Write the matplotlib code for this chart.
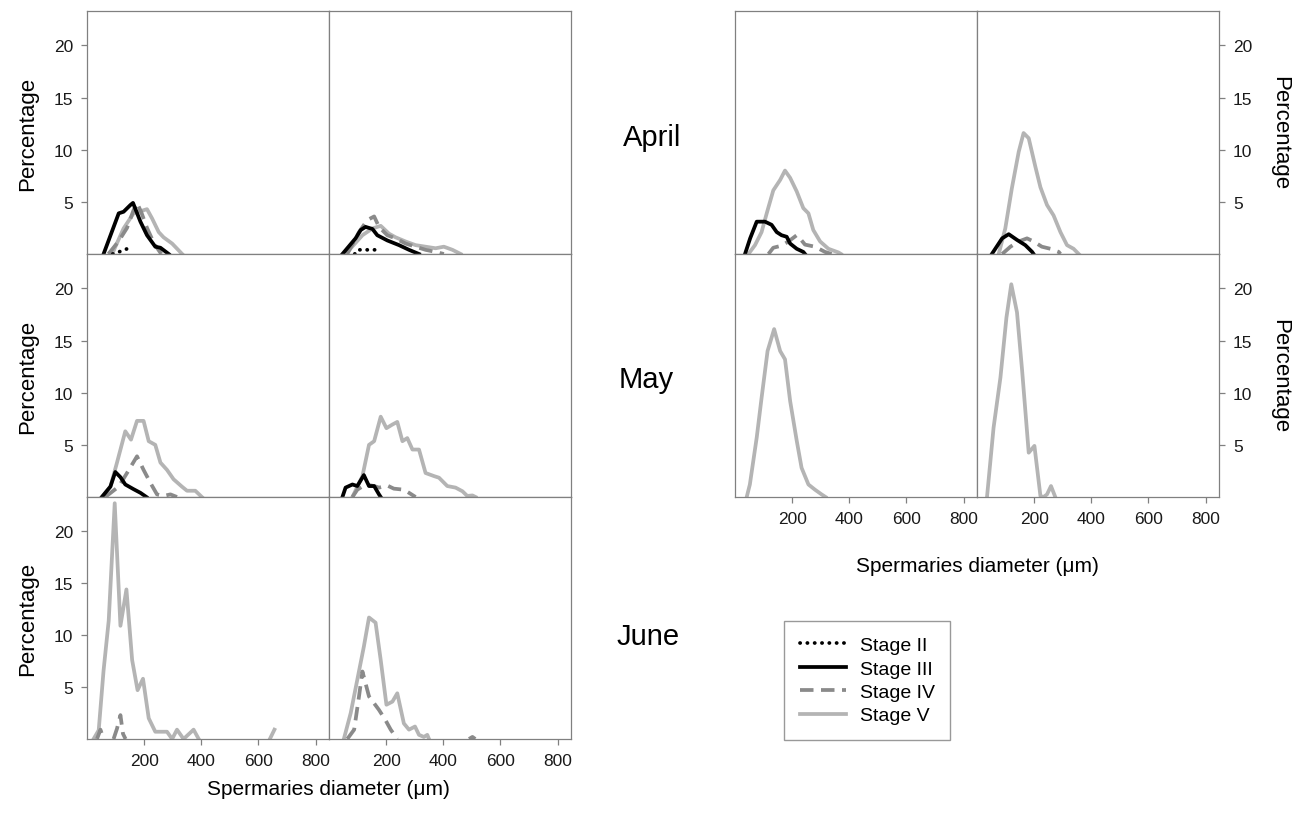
import numpy as np
import matplotlib
matplotlib.use("Agg")
import matplotlib.pyplot as plt
from matplotlib.lines import Line2D

plt.rcParams["font.family"] = ["Liberation Sans", "DejaVu Sans"]

nan = np.nan

# ---------------------------------------------------------------
# data: percentage by spermaries diameter (um), per stage
# a = left block, b = right block; 1/2 = column inside block
# ---------------------------------------------------------------
apr_a1 = {
    "II":  ([90, 110, 125, 140, 150], [0, 0.2, 0.3, 0.5, 0]),
    "III": ([58, 111, 128, 152, 161, 187, 210, 239, 257, 286],
            [0, 3.9, 4.05, 4.7, 4.9, 3.1, 1.8, 0.7, 0.6, 0]),
    "IV":  ([75, 110, 140, 163, 175, 190, 210, 235, 260],
            [0, 1.2, 2.5, 4.2, 4.9, 4.0, 2.5, 1.0, 0]),
    "V":   ([88, 128, 163, 181, 210, 228, 251, 268, 298, 333],
            [0, 2.45, 3.9, 4.05, 4.3, 3.4, 2.1, 1.6, 1.0, 0]),
}
apr_a2 = {
    "II":  ([90, 100, 135, 165, 175], [0, 0.4, 0.4, 0.4, 0]),
    "III": ([47, 93, 111, 128, 152, 169, 204, 245, 280, 315],
            [0, 1.5, 2.3, 2.6, 2.4, 1.8, 1.3, 0.85, 0.4, 0]),
    "IV":  ([64, 105, 134, 158, 175, 204, 233, 268, 303, 338, 373, 402],
            [0, 2.1, 3.25, 3.6, 2.6, 1.8, 1.5, 1.0, 0.7, 0.4, 0.2, 0]),
    "V":   ([58, 117, 152, 181, 210, 233, 268, 303, 338, 373, 402, 432, 461],
            [0, 1.8, 2.45, 2.7, 1.95, 1.6, 1.2, 0.85, 0.7, 0.55, 0.7, 0.4, 0]),
}
apr_b1 = {
    "III": ([35, 53, 76, 105, 128, 146, 163, 181, 193, 216, 239, 245],
            [0, 1.5, 3.1, 3.1, 2.8, 2.1, 1.8, 1.65, 1.0, 0.5, 0.2, 0]),
    "IV":  ([117, 134, 163, 187, 216, 227, 245, 280, 315, 338],
            [0, 0.6, 0.8, 1.2, 1.8, 1.5, 0.9, 0.7, 0.2, 0]),
    "V":   ([47, 70, 93, 111, 134, 158, 175, 193, 216, 239, 257, 274, 298, 327, 362, 371],
            [0, 0.85, 2.1, 3.9, 6.1, 7.1, 8.0, 7.3, 6.0, 4.4, 3.9, 2.3, 1.2, 0.5, 0.15, 0]),
}
apr_b2 = {
    "III": ([52, 88, 111, 140, 169, 193, 198], [0, 1.5, 1.9, 1.35, 0.85, 0.2, 0]),
    "IV":  ([88, 117, 146, 175, 198, 227, 257, 286, 292],
            [0, 0.7, 1.2, 1.5, 1.2, 0.7, 0.5, 0.2, 0]),
    "V":   ([76, 99, 122, 146, 163, 181, 204, 222, 245, 268, 292, 315, 338, 356],
            [0, 2.45, 6.3, 9.8, 11.6, 11.1, 8.4, 6.4, 4.7, 3.7, 2.1, 0.85, 0.5, 0]),
}
may_a1 = {
    "III": ([52, 82, 99, 117, 134, 163, 187, 208], [0, 1.0, 2.4, 1.9, 1.2, 0.75, 0.4, 0]),
    "IV":  ([64, 111, 140, 175, 198, 222, 245, 268, 292, 315],
            [0, 1.0, 2.3, 3.9, 2.6, 1.35, 0.25, 0.1, 0.25, 0]),
    "V":   ([52, 82, 105, 134, 154, 175, 198, 216, 239, 257, 280, 303, 332, 350, 379, 402],
            [0, 1.0, 3.3, 6.3, 5.5, 7.3, 7.3, 5.35, 5.0, 3.3, 2.6, 1.7, 1.0, 0.6, 0.6, 0]),
}
may_a2 = {
    "III": ([47, 58, 82, 99, 122, 140, 158, 175, 181],
            [0, 0.9, 1.2, 1.05, 2.1, 1.05, 1.05, 0.25, 0]),
    "IV":  ([82, 99, 128, 158, 175, 204, 227, 262, 280, 303],
            [0, 0.7, 1.2, 1.05, 0.9, 1.1, 0.8, 0.7, 0.4, 0]),
    "V":   ([82, 117, 140, 158, 181, 201, 222, 239, 257, 274, 292, 315, 338, 368, 385,
             414, 443, 467, 484, 502, 513],
            [0, 2.0, 5.0, 5.35, 7.7, 6.6, 6.95, 7.2, 5.35, 5.65, 4.55, 4.55, 2.3, 2.0, 1.85,
             1.05, 0.9, 0.55, 0.1, 0.15, 0]),
}
may_b1 = {
    "V": ([41, 52, 76, 93, 114, 137, 158, 175, 193, 216, 233, 257, 280, 303, 317],
          [0, 1.2, 5.7, 9.5, 14.0, 16.1, 14.0, 13.2, 9.2, 5.4, 2.8, 1.2, 0.7, 0.25, 0]),
}
may_b2 = {
    "V": ([35, 58, 82, 103, 120, 140, 158, 181, 201, 222, 233, 245, 259, 274],
          [0, 6.65, 11.45, 17.2, 20.4, 17.7, 12.1, 4.25, 4.9, 0.1, 0, 0.25, 1.05, 0]),
}
jun_a1 = {
    "IV": ([35, 47, 58, nan, 93, 105, 117, 126, 135],
           [0, 0.9, 0, nan, 0, 1.0, 2.3, 0.5, 0]),
    "V":  ([23, 41, 58, 76, 97, 117, 138, 158, 177, 196, 216, 239, 280, 298, 315, 338,
            373, 391, nan, 640, 656],
           [0, 0.85, 6.6, 11.4, 22.7, 10.9, 14.4, 7.6, 4.7, 5.8, 2.0, 0.7, 0.7, 0, 0.9, 0,
            0.9, 0, nan, 0, 0.9]),
}
jun_a2 = {
    "IV": ([64, 88, 105, 117, 140, 175, 198, 216, 239, nan, 490, 502, 512],
           [0, 0.9, 4.1, 6.5, 4.1, 2.8, 1.8, 0.9, 0, nan, 0, 0.2, 0]),
    "V":  ([52, 76, 99, 122, 140, 163, 181, 201, 222, 239, 262, 280, 301, 315, 332, 344, 350],
           [0, 2.5, 5.7, 8.9, 11.7, 11.2, 7.6, 3.3, 3.6, 4.4, 1.5, 0.9, 1.2, 0.4, 0.2, 0.4, 0]),
}

months = ["April", "May", "June"]
stages = ["II", "III", "IV", "V"]
x_ticks = [200, 400, 600, 800]
y_ticks = [5, 10, 15, 20]

STYLE = {
    "II":  dict(color="black", linestyle=(0, (0.05, 1.9)), dash_capstyle="round"),
    "III": dict(color="black", linestyle="-"),
    "IV":  dict(color="#8a8a8a", linestyle=(0, (3.6, 2.0))),
    "V":   dict(color="#b4b4b4", linestyle="-"),
}
SPINE = "#808080"

W, H = 1302, 828
fig = plt.figure(figsize=(W / 100, H / 100), dpi=100)


def add_panel(x0, y0, x1, y1):
    return fig.add_axes([x0 / W, 1 - y1 / H, (x1 - x0) / W, (y1 - y0) / H])


def draw(ax, panel, show_x, yside):
    for st in ["V", "IV", "III", "II"]:
        if st in panel:
            xs, ys = panel[st]
            ax.plot(xs, ys, lw=2.7, **STYLE[st])
    ax.set_xlim(0, 847)
    ax.set_ylim(0, 23.3)
    for s in ax.spines.values():
        s.set_color(SPINE)
        s.set_linewidth(0.9)
    ax.set_xticks(x_ticks if show_x else [])
    ax.set_yticks(y_ticks if yside else [])
    ax.tick_params(direction="out", length=4, width=0.9, color=SPINE,
                   labelsize=12.5, labelcolor="#1a1a1a", pad=6)
    if yside == "right":
        ax.yaxis.tick_right()


# left block: three months
cols_a = [(87, 329), (329, 571)]
rows = [(12, 255), (255, 498), (498, 740)]
block_a = [(apr_a1, apr_a2), (may_a1, may_a2), (jun_a1, jun_a2)]
for r, (y0, y1) in enumerate(rows):
    for c, (x0, x1) in enumerate(cols_a):
        ax = add_panel(x0, y0, x1, y1)
        draw(ax, block_a[r][c], show_x=(r == 2), yside="left" if c == 0 else None)
    fig.text(28 / W, 1 - (y0 + y1) / 2 / H, "Percentage", rotation=90,
             ha="center", va="center", fontsize=16)

# right block: April and May
cols_b = [(735, 977), (977, 1219)]
block_b = [(apr_b1, apr_b2), (may_b1, may_b2)]
for r, (y0, y1) in enumerate(rows[:2]):
    for c, (x0, x1) in enumerate(cols_b):
        ax = add_panel(x0, y0, x1, y1)
        draw(ax, block_b[r][c], show_x=(r == 1), yside="right" if c == 1 else None)
    fig.text(1280 / W, 1 - (y0 + y1) / 2 / H, "Percentage", rotation=270,
             ha="center", va="center", fontsize=16)

# month names between the blocks
for name, (mx, my) in zip(months, [(652, 138), (646, 380), (648, 637)]):
    fig.text(mx / W, 1 - my / H, name, ha="center", va="center", fontsize=21)

fig.text(328 / W, 1 - 790 / H, "Spermaries diameter (\u03bcm)", ha="center", va="center", fontsize=15)
fig.text(977 / W, 1 - 567 / H, "Spermaries diameter (\u03bcm)", ha="center", va="center", fontsize=15)

handles = [Line2D([], [], lw=2.7, **STYLE[s]) for s in stages]
labels = ["Stage " + s for s in stages]
leg = fig.legend(handles, labels, loc="upper left", bbox_to_anchor=(784 / W, 1 - 622 / H),
                 borderaxespad=0, frameon=True, fancybox=False, fontsize=14,
                 handlelength=2.4, handletextpad=0.7, labelspacing=0.3, borderpad=0.8)
leg.get_frame().set_edgecolor(SPINE)
leg.get_frame().set_linewidth(1.0)

fig.savefig("out.png", dpi=100)
